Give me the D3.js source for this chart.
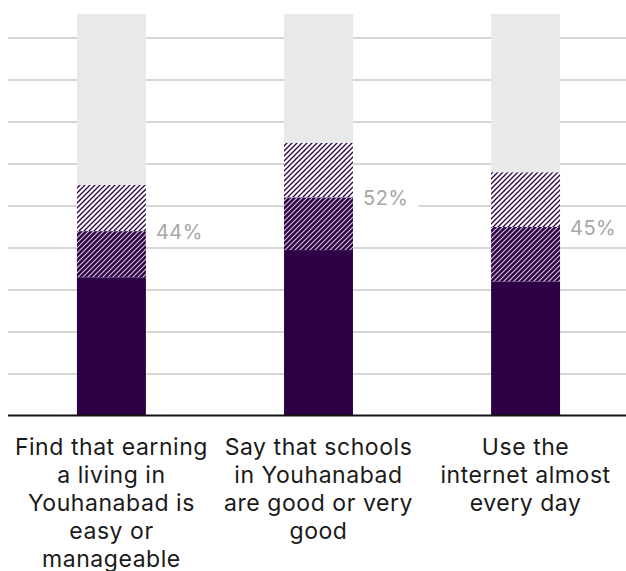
<!DOCTYPE html>
<html>
<head>
<meta charset="utf-8">
<script src="https://cdn.jsdelivr.net/npm/d3@7"></script>
<style>
  html, body { margin: 0; padding: 0; background: #fff; }
  svg { display: block; }
</style>
</head>
<body>
<svg id="chart" width="626" height="571"></svg>
<script>
// Survey questions (line breaks mark how each label wraps)
const categories = [
  "Find that earning\na living in\nYouhanabad is\neasy or\nmanageable",
  "Say that schools\nin Youhanabad\nare good or very\ngood",
  "Use the\ninternet almost\nevery day"
];
// Share of respondents, in percent, stacked bottom to top
const solidValues = [33, 39.5, 32];      // solid segment
const denseValues = [44, 52, 45];        // cumulative top of the densely hatched segment (labelled)
const lightValues = [55, 65, 58];        // cumulative top of the lightly hatched segment
const backgroundTotal = [100, 100, 100]; // grey remainder up to 100%
const gridTicks = [10, 20, 30, 40, 50, 60, 70, 80, 90];
const valueLabels = denseValues.map(v => v + "%");

const W = 626, H = 571;
const purple = "#2d0045";
const font = "Inter, 'Noto Sans', sans-serif";
const svg = d3.select("#chart");
const defs = svg.append("defs");

// Diagonal hatch patterns
const light = defs.append("pattern")
  .attr("id", "hatchLight").attr("patternUnits", "userSpaceOnUse")
  .attr("width", 5).attr("height", 5);
light.append("rect").attr("width", 5).attr("height", 5).attr("fill", "#fff");
light.append("path").attr("d", "M-1,1 l2,-2 M0,5 l5,-5 M4,6 l2,-2")
  .attr("stroke", purple).attr("stroke-width", 1.3);

const dense = defs.append("pattern")
  .attr("id", "hatchDense").attr("patternUnits", "userSpaceOnUse")
  .attr("width", 5).attr("height", 5);
dense.append("rect").attr("width", 5).attr("height", 5).attr("fill", purple);
dense.append("path").attr("d", "M-1,1 l2,-2 M0,5 l5,-5 M4,6 l2,-2")
  .attr("stroke", "#d4c6de").attr("stroke-width", 1.1);

const x = d3.scaleBand().domain(d3.range(categories.length))
  .range([8, 629]).paddingInner(0.667).paddingOuter(0.333);
const y = d3.scaleLinear().domain([0, 100]).range([416, -4]);

// plot area is cut off a little below the 100% line
defs.append("clipPath").attr("id", "plotClip")
  .append("rect").attr("x", 0).attr("y", 14).attr("width", W).attr("height", 416 - 14);

// Gridlines
svg.append("g").selectAll("line").data(gridTicks).join("line")
  .attr("x1", 8).attr("x2", W)
  .attr("y1", d => y(d)).attr("y2", d => y(d))
  .attr("stroke", "#c8c8c8").attr("stroke-width", 1.4);

const bars = svg.append("g").attr("clip-path", "url(#plotClip)");
const idx = d3.range(categories.length);

bars.selectAll(".bg").data(idx).join("rect").attr("class", "bg")
  .attr("x", i => x(i)).attr("width", x.bandwidth())
  .attr("y", i => y(backgroundTotal[i])).attr("height", i => y(0) - y(backgroundTotal[i]))
  .attr("fill", "#e9e9e9");

bars.selectAll(".light").data(idx).join("rect").attr("class", "light")
  .attr("x", i => x(i)).attr("width", x.bandwidth())
  .attr("y", i => y(lightValues[i])).attr("height", i => y(denseValues[i]) - y(lightValues[i]))
  .attr("fill", "url(#hatchLight)");

bars.selectAll(".dense").data(idx).join("rect").attr("class", "dense")
  .attr("x", i => x(i)).attr("width", x.bandwidth())
  .attr("y", i => y(denseValues[i])).attr("height", i => y(solidValues[i]) - y(denseValues[i]))
  .attr("fill", "url(#hatchDense)");

bars.selectAll(".solid").data(idx).join("rect").attr("class", "solid")
  .attr("x", i => x(i)).attr("width", x.bandwidth())
  .attr("y", i => y(solidValues[i])).attr("height", i => y(0) - y(solidValues[i]))
  .attr("fill", purple);

// Baseline
svg.append("line").attr("x1", 8).attr("x2", W)
  .attr("y1", y(0) - 0.5).attr("y2", y(0) - 0.5)
  .attr("stroke", "#111").attr("stroke-width", 2.2);

// Value labels with a white backing
const lbl = svg.append("g").selectAll("g").data(idx).join("g")
  .attr("transform", i => `translate(${x(i) + x.bandwidth() + 10},${y(denseValues[i]) + 0.5})`);
lbl.append("text")
  .attr("dominant-baseline", "central")
  .attr("font-family", font).attr("font-size", 20).attr("letter-spacing", 0.5)
  .attr("fill", "#a6a6a6").text(i => valueLabels[i]);
lbl.each(function () {
  const g = d3.select(this);
  const bb = g.select("text").node().getBBox();
  g.insert("rect", "text").attr("x", bb.x - 10).attr("y", -12)
    .attr("width", bb.width + 20).attr("height", 24).attr("fill", "#fff");
});

// Category labels
const cat = svg.append("g").selectAll("text").data(idx).join("text")
  .attr("text-anchor", "middle")
  .attr("font-family", font).attr("font-size", 23).attr("letter-spacing", 0.55)
  .attr("fill", "#1a1a1a");
cat.each(function (i) {
  const t = d3.select(this);
  categories[i].split("\n").forEach((line, k) => {
    t.append("tspan").attr("x", x(i) + x.bandwidth() / 2)
      .attr("y", 454.5 + k * 28).text(line);
  });
});
</script>
</body>
</html>
